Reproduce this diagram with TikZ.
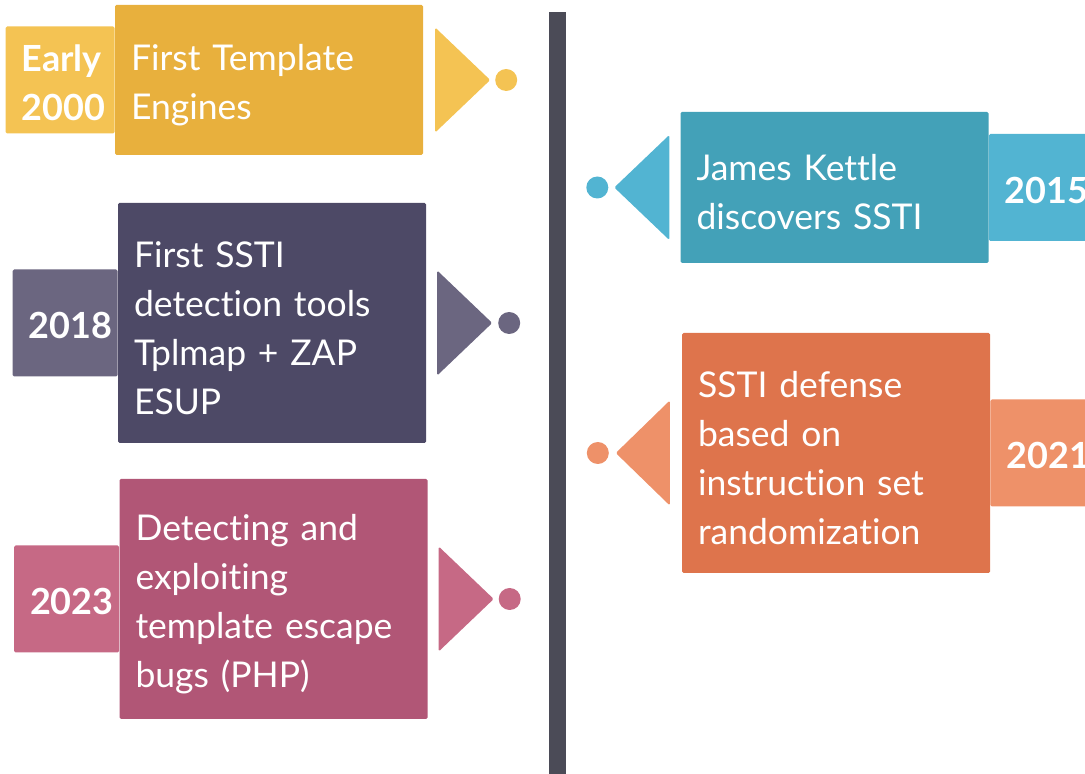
\documentclass[tikz,border=0pt]{standalone}
\usepackage{fontspec}
\setmainfont{Lato}[Ligatures=NoCommon]
\usepackage{xcolor}
\usetikzlibrary{positioning}

\definecolor{goldmain}{HTML}{E8B03D}
\definecolor{goldyear}{HTML}{F4C353}
\definecolor{tealmain}{HTML}{43A1B8}
\definecolor{tealyear}{HTML}{52B4D2}
\definecolor{plummain}{HTML}{4D4966}
\definecolor{plumyear}{HTML}{6B6680}
\definecolor{coralmain}{HTML}{DE744C}
\definecolor{coralyear}{HTML}{EE9169}
\definecolor{rosemain}{HTML}{B15676}
\definecolor{roseyear}{HTML}{C66985}
\definecolor{axisgray}{HTML}{4B4B57}

\begin{document}
\begin{tikzpicture}[x=1pt, y=1pt,
        event/.style={rectangle, fill=#1, rounded corners=1.5pt, minimum width=308pt, inner xsep=16pt, text width=276pt, align=left, text=white, font=\fontsize{35.5}{49}\selectfont, execute at begin node={\rule{0pt}{36pt}}},
        year/.style={rectangle, fill=#1, rounded corners=1.5pt, minimum width=105pt, minimum height=107pt, inner xsep=16pt, inner ysep=0pt, text width=73pt, align=left, text=white, font=\bfseries\fontsize{36}{49}\selectfont, execute at begin node={\rule{0pt}{32pt}}},
        dot/.style={circle, fill=#1, minimum size=22pt, inner sep=0pt},
        tip/.style={fill=#1, rounded corners=1.5pt}
    ]
    \useasboundingbox (0,0) rectangle (1085,774);

    \node[fill=axisgray, minimum width=17pt, minimum height=762pt, inner sep=0pt, anchor=south] (axis) at (557.5,0) {};

    \node[event=goldmain, minimum height=150pt] (m1) at (269,694) {First Template\\Engines};
    \node[year=goldyear, left=0pt of m1, text width=77pt] (y1) {Early\\2000};
    \fill[tip=goldyear] ([xshift=12pt, yshift=52.5pt]m1.east) -- ([xshift=67pt]m1.east) -- ([xshift=12pt, yshift=-52.5pt]m1.east) -- cycle;
    \node[dot=goldyear] (d1) at ([xshift=83pt]m1.east) {};

    \node[event=tealmain, minimum height=151pt] (r1) at (834.5,586.5) {James Kettle\\discovers SSTI};
    \node[year=tealyear, right=0pt of r1] (y4) {2015};
    \fill[tip=tealyear] ([xshift=-11pt, yshift=52.5pt]r1.west) -- ([xshift=-66pt]r1.west) -- ([xshift=-11pt, yshift=-52.5pt]r1.west) -- cycle;
    \node[dot=tealyear] (d4) at ([xshift=-83pt]r1.west) {};

    \node[event=plummain, minimum height=240pt] (m2) at (272,451) {First SSTI\\detection tools\\Tplmap + ZAP\\ESUP};
    \node[year=plumyear, left=0pt of m2] (y2) {2018};
    \fill[tip=plumyear] ([xshift=11pt, yshift=52.5pt]m2.east) -- ([xshift=66pt]m2.east) -- ([xshift=11pt, yshift=-52.5pt]m2.east) -- cycle;
    \node[dot=plumyear] (d2) at ([xshift=83pt]m2.east) {};

    \node[event=coralmain, minimum height=240pt] (r2) at (836,321) {SSTI defense\\based on\\instruction set\\randomization};
    \node[year=coralyear, right=0pt of r2] (y5) {2021};
    \fill[tip=coralyear] ([xshift=-12pt, yshift=52.5pt]r2.west) -- ([xshift=-66pt]r2.west) -- ([xshift=-12pt, yshift=-52.5pt]r2.west) -- cycle;
    \node[dot=coralyear] (d5) at ([xshift=-84pt]r2.west) {};

    \node[event=rosemain, minimum height=240pt] (m3) at (273.5,175) {Detecting and\\exploiting\\template escape\\bugs (PHP)};
    \node[year=roseyear, left=0pt of m3] (y3) {2023};
    \fill[tip=roseyear] ([xshift=11pt, yshift=52.5pt]m3.east) -- ([xshift=66pt]m3.east) -- ([xshift=11pt, yshift=-52.5pt]m3.east) -- cycle;
    \node[dot=roseyear] (d3) at ([xshift=82pt]m3.east) {};
\end{tikzpicture}
\end{document}
